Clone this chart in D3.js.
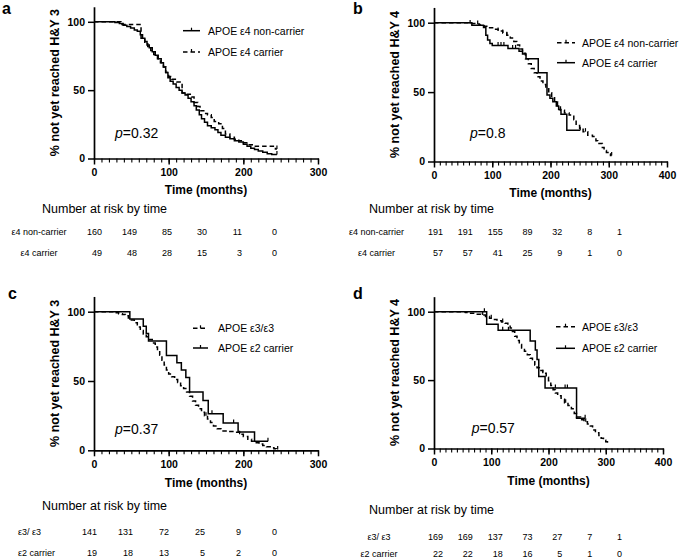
<!DOCTYPE html>
<html><head><meta charset="utf-8">
<script src="https://cdn.jsdelivr.net/npm/d3@7/dist/d3.min.js"></script>
<style>
body{margin:0;background:#fff}
svg{display:block}
text{font-family:"Liberation Sans",Arial,Helvetica,sans-serif;fill:#000}
</style>
</head><body>
<svg id="chart" width="685" height="557"></svg>
<script>
// ---------------- DATA ----------------
const panelLetters = ["a", "b", "c", "d"];
const yTitles = ["% not yet reached H&Y 3", "% not yet reached H&Y 4", "% not yet reached H&Y 3", "% not yet reached H&Y 4"];
const xTitle = "Time (months)";
const pValues = ["0.32", "0.8", "0.37", "0.57"];
const xMaxes = [300, 400, 300, 400];
const yTicks = [0, 50, 100];
const riskHeader = "Number at risk by time";

const legendA = ["APOE ε4 non-carrier", "APOE ε4 carrier"];
const legendB = ["APOE ε4 non-carrier", "APOE ε4 carrier"];
const legendC = ["APOE ε3/ε3", "APOE ε2 carrier"];
const legendD = ["APOE ε3/ε3", "APOE ε2 carrier"];

const riskLabelsA = ["ε4 non-carrier", "ε4 carrier"];
const riskLabelsB = ["ε4 non-carrier", "ε4 carrier"];
const riskLabelsC = ["ε3/ ε3", "ε2 carrier"];
const riskLabelsD = ["ε3/ ε3", "ε2 carrier"];

const riskA1 = [160, 149, 85, 30, 11, 0];
const riskA2 = [49, 48, 28, 15, 3, 0];
const riskB1 = [191, 191, 155, 89, 32, 8, 1];
const riskB2 = [57, 57, 41, 25, 9, 1, 0];
const riskC1 = [141, 131, 72, 25, 9, 0];
const riskC2 = [19, 18, 13, 5, 2, 0];
const riskD1 = [169, 169, 137, 73, 27, 7, 1];
const riskD2 = [22, 22, 18, 16, 5, 1, 0];

// survival steps: [months, % not yet reached]
const survA_nonCarrier = [[0,100],[28,99.4],[34,98.7],[39,97.5],[44,96.5],[49,95.5],[54,94],[58,93],[62,90.5],[65,88],[68,85.5],[71,83],[74,81],[78,78],[82,75.5],[86,73],[90,70],[93,67],[96,63],[99,59],[102,56.5],[106,54.5],[110,52],[114,50],[118,48],[122,46.5],[126,44],[130,41.5],[134,38.5],[137,35.5],[141,32],[144,29],[148,26.5],[152,24],[157,22.5],[162,21],[166,19],[170,17],[176,15.5],[182,14.5],[188,13],[194,12],[200,10.5],[205,9],[210,7.5],[215,6.5],[220,5.5],[226,4.5],[232,3.5],[238,3],[245,3]];
const survA_carrier = [[0,100],[36,98],[63,88],[68,85],[72,82],[76,79],[80,76],[85,73],[89,70],[93,67],[96,63],[100,60],[104,58],[111,56],[118,48],[124,47],[131,45],[134,41],[139,38],[142,35],[147,33],[152,32],[157,30],[161,27],[167,25.5],[172,22],[176,18],[182,15.5],[188,14],[194,13],[200,11.5],[206,10],[212,9],[243,7],[245,7]];
const survB_nonCarrier = [[0,100],[62,99.5],[70,99],[78,98.3],[86,97.5],[94,96.3],[102,95.2],[110,94],[118,92.5],[125,91],[131,89],[137,86.5],[142,84],[147,81],[152,78],[157,74],[162,70.5],[167,67],[172,64],[177,61],[182,58],[187,55.5],[192,52.5],[197,49.5],[202,46],[207,43],[212,40],[217,37],[224,35],[232,33.5],[240,30],[244,26],[250,24],[256,21.5],[264,19],[272,18],[278,15],[281,13],[289,10],[292,8],[296,6.5],[300,5.5],[303,4.3],[305,4.3]];
const survB_carrier = [[0,100],[65,98.2],[85,96.5],[89,91],[92,87.5],[96,85],[100,83.5],[127,81.5],[146,79.5],[152,77.5],[158,74],[179,64],[194,48],[199,45.5],[204,43],[210,40],[214,37.5],[218,34],[228,22.5],[251,22.5]];
const survC_e33 = [[0,100],[26,99.3],[33,98.6],[38,97.9],[42,97],[46,95.5],[50,94],[54,92],[58,89],[62,86.5],[66,84],[70,82],[74,80],[78,77.5],[82,74.5],[85,72],[88,68.5],[91,65],[94,61.5],[97,58],[100,55],[104,53],[108,51],[112,49],[116,46.5],[120,44.5],[124,42],[128,39],[132,35.5],[136,32.5],[140,30],[144,27.5],[148,25],[152,22.5],[156,20],[160,17.5],[165,15.5],[170,14],[180,13.5],[188,13],[195,11.5],[200,10],[206,8],[211,6.5],[216,5.5],[221,4.5],[226,3.5],[231,2.5],[236,1.8],[241,1.2],[244,0.5],[246,0.5]];
const survC_e2 = [[0,100],[48,94.7],[66,89.5],[70,84.2],[73,78.9],[97,68.4],[111,63.2],[117,57.9],[123,52.6],[128,42.1],[146,36],[153,26.3],[173,19.7],[193,13.2],[215,6.6],[233,6.6]];
const survD_e33 = [[0,100],[55,99.4],[62,98.8],[72,98.2],[82,97.6],[90,96.5],[97,95.2],[104,94.3],[110,93.4],[118,92.5],[124,91.5],[129,90],[133,88],[137,85.5],[141,82],[145,79],[149,76],[153,73.5],[158,71],[163,68.5],[168,66],[172,63.5],[176,61],[180,59],[184,57],[190,55],[196,52],[200,49.5],[204,46],[208,43],[212,40.5],[216,38.5],[222,36],[228,33.5],[234,31.5],[240,29],[245,25.5],[249,23],[256,21],[262,19.5],[268,18],[273,16.5],[277,13.5],[282,11.5],[288,9.5],[292,7.5],[296,6],[300,5],[303,4],[305,4]];
const survD_e2 = [[0,100],[92,90.9],[112,86.4],[168,78.6],[177,72],[180,65],[183,52.6],[194,44.2],[249,22.1],[264,22.1]];

// censored times (small vertical ticks)
const censA_nonCarrier = [245];
const censA_carrier = [245];
const censB_nonCarrier = [62, 75, 110, 118, 125, 260, 305];
const censB_carrier = [110, 115, 120, 135, 140, 251];
const censC_e33 = [150, 195, 246];
const censC_e2 = [158, 187, 233];
const censD_e33 = [85, 100, 120, 190, 230, 265];
const censD_e2 = [88, 120, 130, 212, 229, 233, 264];

// ---------------- LAYOUT / DRAW ----------------
const svg = d3.select("#chart");
const FONT = '"Liberation Sans",Arial,Helvetica,sans-serif';

const panels = [
  { x0: 94, x1: 318, y0: 158.5, y100: 21.8, letter: [2, 14], yTitleX: 59, xTitleY: 194, p: [115, 138.3],
    legend: { sx: [183, 200], tx: 208, ys: [30.7, 52] },
    series: [{ data: survA_nonCarrier, cens: censA_nonCarrier, dashed: false }, { data: survA_carrier, cens: censA_carrier, dashed: true }],
    legendText: legendA,
    risk: { hx: 42, hy: 213, rows: [riskA1, riskA2], labels: riskLabelsA, ly: [234.5, 256], lx: 39, anchor: "middle", nx: [102, 277] } },
  { x0: 434, x1: 667, y0: 161.5, y100: 22.7, letter: [353, 14], yTitleX: 398.5, xTitleY: 197, p: [470, 137.5],
    legend: { sx: [557, 575], tx: 582, ys: [42.7, 62.7] },
    series: [{ data: survB_nonCarrier, cens: censB_nonCarrier, dashed: true }, { data: survB_carrier, cens: censB_carrier, dashed: false }],
    legendText: legendB,
    risk: { hx: 369, hy: 213, rows: [riskB1, riskB2], labels: riskLabelsB, ly: [235, 256], lx: 376.5, anchor: "middle", nx: [443, 622] } },
  { x0: 94, x1: 318, y0: 450.3, y100: 311.7, letter: [8, 299.3], yTitleX: 59, xTitleY: 487, p: [115, 434],
    legend: { sx: [193, 208], tx: 218, ys: [328.3, 348] },
    series: [{ data: survC_e33, cens: censC_e33, dashed: true }, { data: survC_e2, cens: censC_e2, dashed: false }],
    legendText: legendC,
    risk: { hx: 42, hy: 510, rows: [riskC1, riskC2], labels: riskLabelsC, ly: [535, 556], lx: 18, anchor: "start", nx: [97, 277] } },
  { x0: 434, x1: 663, y0: 448.5, y100: 311.7, letter: [353, 299.3], yTitleX: 398.5, xTitleY: 485, p: [471.7, 433.3],
    legend: { sx: [556, 575], tx: 582, ys: [326.7, 348.3] },
    series: [{ data: survD_e33, cens: censD_e33, dashed: true }, { data: survD_e2, cens: censD_e2, dashed: false }],
    legendText: legendD,
    risk: { hx: 369, hy: 514, rows: [riskD1, riskD2], labels: riskLabelsD, ly: [540, 556.5], lx: 379, anchor: "middle", nx: [443, 622] } }
];

function stepValue(data, t) {
  let v = data[0][1];
  for (const d of data) { if (d[0] <= t) v = d[1]; }
  return v;
}

panels.forEach((P, i) => {
  const g = svg.append("g");
  const xMax = xMaxes[i];
  const x = d3.scaleLinear().domain([0, xMax]).range([P.x0, P.x1]);
  const yBase = d3.scaleLinear().domain([0, 100]).range([P.y0, P.y100]);
  const y = d3.scaleLinear().domain([0, 111]).range([P.y0, yBase(111)]);

  // panel letter
  g.append("text").attr("x", P.letter[0]).attr("y", P.letter[1])
    .attr("font-size", 16).attr("font-weight", "bold").text(panelLetters[i]);

  // y axis
  const ya = g.append("g").attr("transform", `translate(${P.x0},0)`)
    .call(d3.axisLeft(y).tickValues(yTicks).tickSize(6).tickSizeOuter(0).tickPadding(3));
  // x axis minor
  const xm = g.append("g").attr("transform", `translate(0,${P.y0})`)
    .call(d3.axisBottom(x).tickValues(d3.range(0, xMax + 1, 10)).tickSize(4).tickSizeOuter(0).tickFormat(""));
  xm.select(".domain").remove();
  // x axis major
  const xa = g.append("g").attr("transform", `translate(0,${P.y0})`)
    .call(d3.axisBottom(x).tickValues(d3.range(0, xMax + 1, 100)).tickSize(6).tickSizeOuter(0).tickPadding(4.5));
  [ya, xa, xm].forEach(a => {
    a.selectAll("path.domain").attr("stroke", "#000").attr("stroke-width", 1.7);
    a.selectAll(".tick line").attr("stroke", "#000").attr("stroke-width", 1.5);
    a.selectAll(".tick text").attr("font-family", FONT).attr("font-size", 10.5).attr("font-weight", "bold").attr("fill", "#000");
  });
  xm.selectAll(".tick line").attr("stroke-width", 1.1);

  // titles
  g.append("text").attr("transform", `translate(${P.yTitleX},${(P.y0 + y(111)) / 2}) rotate(-90)`)
    .attr("text-anchor", "middle").attr("font-size", 12.5).attr("font-weight", "bold").text(yTitles[i]);
  g.append("text").attr("x", (P.x0 + P.x1) / 2).attr("y", P.xTitleY)
    .attr("text-anchor", "middle").attr("font-size", 12).attr("font-weight", "bold").text(xTitle);

  // p value
  const pt = g.append("text").attr("x", P.p[0]).attr("y", P.p[1]).attr("font-size", 14);
  pt.append("tspan").attr("font-style", "italic").text("p");
  pt.append("tspan").text("=" + pValues[i]);

  // curves
  const line = d3.line().x(d => x(d[0])).y(d => y(d[1])).curve(d3.curveStepAfter);
  P.series.forEach(s => {
    g.append("path").datum(s.data).attr("d", line).attr("fill", "none")
      .attr("stroke", "#000").attr("stroke-width", 1.5)
      .attr("stroke-dasharray", s.dashed ? "4.5,3" : null);
    g.selectAll(null).data(s.cens).enter().append("line")
      .attr("x1", t => x(t)).attr("x2", t => x(t))
      .attr("y1", t => y(stepValue(s.data, t))).attr("y2", t => y(stepValue(s.data, t)) - 3.5)
      .attr("stroke", "#000").attr("stroke-width", 1.2);
  });

  // legend
  P.series.forEach((s, k) => {
    const ly = P.legend.ys[k];
    g.append("line").attr("x1", P.legend.sx[0]).attr("x2", P.legend.sx[1]).attr("y1", ly).attr("y2", ly)
      .attr("stroke", "#000").attr("stroke-width", 1.5).attr("stroke-dasharray", s.dashed ? "4.5,3" : null);
    const mx = (P.legend.sx[0] + P.legend.sx[1]) / 2;
    g.append("line").attr("x1", mx).attr("x2", mx).attr("y1", ly).attr("y2", ly - 3)
      .attr("stroke", "#000").attr("stroke-width", 1.2);
    g.append("text").attr("x", P.legend.tx).attr("y", ly + 3.8).attr("font-size", 10.5).text(P.legendText[k]);
  });

  // risk table
  const R = P.risk;
  g.append("text").attr("x", R.hx).attr("y", R.hy).attr("font-size", 12.5).text(riskHeader);
  const cx = d3.scaleLinear().domain([0, R.rows[0].length - 1]).range(R.nx);
  R.rows.forEach((row, r) => {
    g.append("text").attr("x", R.lx).attr("y", R.ly[r]).attr("font-size", 9)
      .attr("text-anchor", R.anchor).text(R.labels[r]);
    g.selectAll(null).data(row).enter().append("text")
      .attr("x", (d, j) => cx(j)).attr("y", R.ly[r]).attr("font-size", 9)
      .attr("text-anchor", "end").text(d => d);
  });
});
</script>
</body></html>
